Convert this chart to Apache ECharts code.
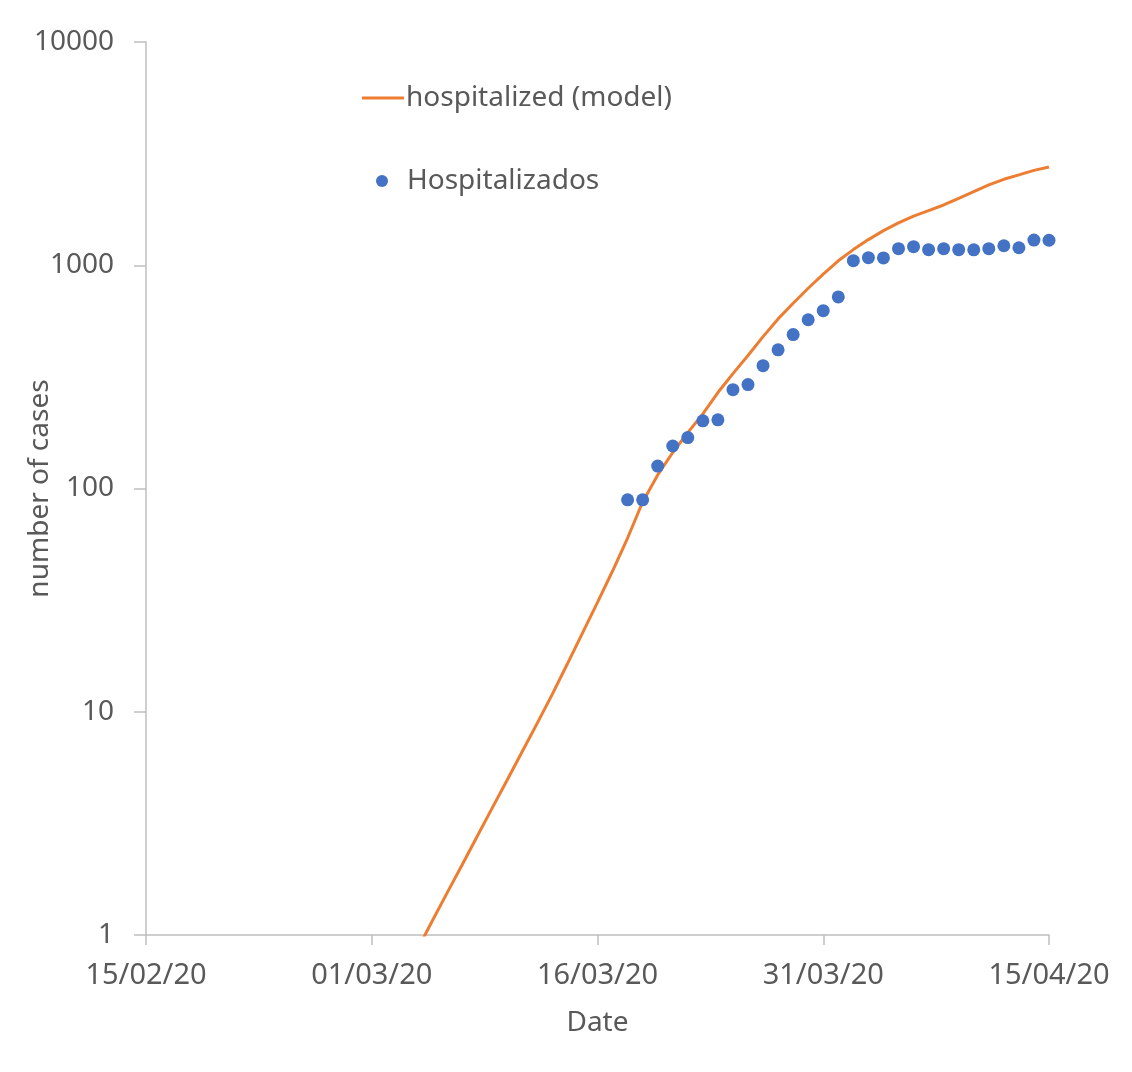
<!DOCTYPE html>
<html>
<head>
<meta charset="utf-8">
<script src="https://cdn.jsdelivr.net/npm/echarts@6/dist/echarts.min.js"></script>
<style>html,body{margin:0;padding:0;background:#fff;}#c{width:1132px;height:1072px;}</style>
</head>
<body>
<div id="c"></div>
<script>
const xTickLabels = ['15/02/20', '01/03/20', '16/03/20', '31/03/20', '15/04/20'];
const modelDates = ['04/03/20','05/03/20','06/03/20','07/03/20','08/03/20','09/03/20','10/03/20','11/03/20','12/03/20','13/03/20',
  '14/03/20','15/03/20','16/03/20','17/03/20','18/03/20','19/03/20','20/03/20','21/03/20','22/03/20','23/03/20',
  '24/03/20','25/03/20','26/03/20','27/03/20','28/03/20','29/03/20','30/03/20','31/03/20','01/04/20','02/04/20',
  '03/04/20','04/04/20','05/04/20','06/04/20','07/04/20','08/04/20','09/04/20','10/04/20','11/04/20','12/04/20',
  '13/04/20','14/04/20','15/04/20'];
const modelValues = [0.85, 1.15, 1.54, 2.06, 2.76, 3.7, 4.95, 6.64, 8.89, 12.0,
  16.4, 22.5, 30.9, 42.7, 60, 87, 115, 145, 178, 216,
  269, 327, 394, 479, 575, 676, 789, 912, 1047, 1175,
  1303, 1429, 1549, 1660, 1758, 1862, 1995, 2138, 2291, 2427,
  2541, 2661, 2754];
const obsDates = ['18/03/20','19/03/20','20/03/20','21/03/20','22/03/20','23/03/20','24/03/20','25/03/20','26/03/20','27/03/20',
  '28/03/20','29/03/20','30/03/20','31/03/20','01/04/20','02/04/20','03/04/20','04/04/20','05/04/20','06/04/20',
  '07/04/20','08/04/20','09/04/20','10/04/20','11/04/20','12/04/20','13/04/20','14/04/20','15/04/20'];
const obsValues = [89, 89, 126, 155, 169, 201, 203, 277, 292, 355,
  418, 489, 570, 626, 721, 1048, 1081, 1078, 1186, 1211,
  1174, 1186, 1174, 1172, 1186, 1223, 1198, 1297, 1294];

const BASE = Date.UTC(2020, 1, 15);
const DAY = 86400000;
function toDay(s) {
  const p = s.split('/');
  return Math.round((Date.UTC(2000 + (+p[2]), (+p[1]) - 1, +p[0]) - BASE) / DAY);
}
function fmt(v) {
  const d = new Date(BASE + v * DAY);
  const dd = String(d.getUTCDate()).padStart(2, '0');
  const mm = String(d.getUTCMonth() + 1).padStart(2, '0');
  const yy = String(d.getUTCFullYear() % 100).padStart(2, '0');
  return dd + '/' + mm + '/' + yy;
}
const tickDays = xTickLabels.map(toDay);

const FONT = 'Noto Sans';
const TXT = '#595959';
const AX = '#bfbfbf';

const chart = echarts.init(document.getElementById('c'), null, {renderer: 'canvas'});
chart.setOption({
  animation: false,
  backgroundColor: '#ffffff',
  textStyle: {fontFamily: FONT},
  grid: {left: 146, right: 83, top: 42, bottom: 137, containLabel: false, outerBoundsMode: 'none'},
  legend: [
    {
      data: [{name: 'hospitalized (model)', icon: 'rect'}],
      left: 357, top: 79, itemWidth: 42, itemHeight: 3,
      textStyle: {fontFamily: FONT, fontSize: 28, color: TXT, padding: [0, 0, 0, -3]},
      selectedMode: false
    },
    {
      data: [{name: 'Hospitalizados', icon: 'circle'}],
      left: 371, top: 162, itemWidth: 12, itemHeight: 12,
      textStyle: {fontFamily: FONT, fontSize: 28, color: TXT, padding: [0, 0, 0, 14]},
      selectedMode: false
    }
  ],
  xAxis: {
    type: 'value',
    min: tickDays[0], max: tickDays[tickDays.length - 1], interval: 15,
    name: 'Date', nameLocation: 'middle', nameGap: 74,
    nameTextStyle: {fontFamily: FONT, fontSize: 28, color: TXT},
    axisLine: {lineStyle: {color: AX, width: 1.5}},
    axisTick: {show: true, inside: false, length: 10, lineStyle: {color: AX, width: 1.5}},
    axisLabel: {fontFamily: FONT, fontSize: 29, color: TXT, margin: 26, formatter: fmt, showMaxLabel: true, showMinLabel: true},
    splitLine: {show: false}
  },
  yAxis: {
    type: 'log', logBase: 10, min: 1, max: 10000,
    name: 'number of cases', nameLocation: 'middle', nameGap: 92, nameRotate: 90,
    nameMoveOverlap: false,
    nameTextStyle: {fontFamily: FONT, fontSize: 28, color: TXT},
    axisLine: {show: true, lineStyle: {color: AX, width: 1.5}},
    axisTick: {show: true, inside: false, length: 12, lineStyle: {color: AX, width: 1.5}},
    axisLabel: {fontFamily: FONT, fontSize: 28, color: TXT, margin: 32, formatter: function (v) { return String(Math.round(v)); }},
    splitLine: {show: false},
    minorTick: {show: false}
  },
  series: [
    {
      name: 'hospitalized (model)',
      type: 'line',
      data: modelDates.map((d, i) => [toDay(d), modelValues[i]]),
      symbol: 'none',
      color: '#ED7D31',
      lineStyle: {color: '#ED7D31', width: 3},
      clip: true,
      z: 2
    },
    {
      name: 'Hospitalizados',
      type: 'scatter',
      data: obsDates.map((d, i) => [toDay(d), obsValues[i]]),
      symbol: 'circle',
      symbolSize: 13,
      color: '#4472C4',
      itemStyle: {color: '#4472C4', opacity: 1},
      z: 3
    }
  ]
});
</script>
</body>
</html>
